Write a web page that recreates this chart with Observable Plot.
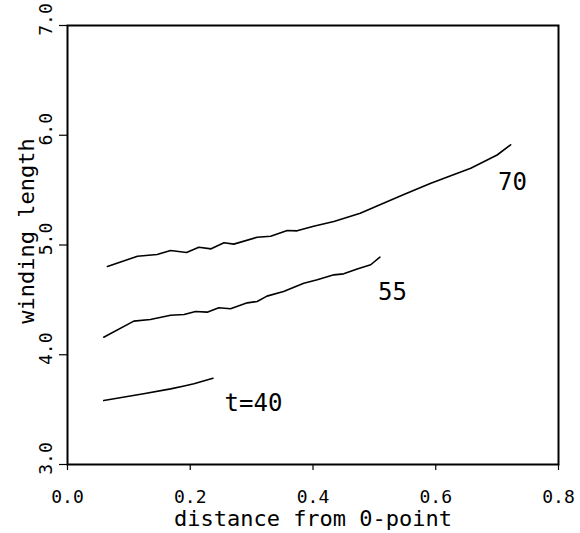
<!DOCTYPE html>
<html>
<head>
<meta charset="utf-8">
<script src="https://cdn.jsdelivr.net/npm/d3@7"></script>
<script src="https://cdn.jsdelivr.net/npm/@observablehq/plot@0.6"></script>
<style>
  html, body { margin: 0; padding: 0; background: #fff; }
  svg { font-family: "DejaVu Sans Mono", monospace; }
  g[aria-label="axis-title"] text { letter-spacing: 1.3px; }
</style>
</head>
<body>
<div id="chart"></div>
<script>
// t = 70
const x70 = [0.065, 0.114, 0.146, 0.168, 0.194, 0.214, 0.234, 0.255, 0.271, 0.309, 0.331, 0.358, 0.374, 0.401, 0.434, 0.477, 0.510, 0.548, 0.591, 0.619, 0.657, 0.700, 0.722];
const y70 = [4.804, 4.898, 4.913, 4.950, 4.932, 4.980, 4.965, 5.020, 5.008, 5.071, 5.080, 5.132, 5.129, 5.171, 5.214, 5.290, 5.370, 5.460, 5.560, 5.620, 5.700, 5.820, 5.913];
// t = 55
const x55 = [0.059, 0.108, 0.135, 0.168, 0.190, 0.2085, 0.2276, 0.2465, 0.2656, 0.293, 0.309, 0.325, 0.352, 0.385, 0.407, 0.434, 0.450, 0.472, 0.494, 0.509];
const y55 = [4.160, 4.306, 4.321, 4.360, 4.367, 4.394, 4.388, 4.428, 4.419, 4.473, 4.485, 4.534, 4.577, 4.652, 4.683, 4.728, 4.737, 4.782, 4.820, 4.889];
// t = 40
const x40 = [0.059, 0.124, 0.168, 0.190, 0.206, 0.237];
const y40 = [3.583, 3.644, 3.689, 3.715, 3.735, 3.786];

const curveLabels = ["70", "55", "t=40"];
const labelX = [0.725, 0.5295, 0.303];
const labelY = [5.57, 4.567, 3.556];

const xTicks = [0, 0.2, 0.4, 0.6, 0.8];
const yTicks = [3, 4, 5, 6, 7];
const xTitle = "distance from 0-point";
const yTitle = "winding length";

const toRows = (xs, ys) => xs.map((x, i) => ({x, y: ys[i]}));
const series = [toRows(x70, y70), toRows(x55, y55), toRows(x40, y40)];
const labels = curveLabels.map((t, i) => ({t, x: labelX[i], y: labelY[i]}));

const chart = Plot.plot({
  width: 580,
  height: 533,
  marginLeft: 67,
  marginRight: 22,
  marginTop: 25,
  marginBottom: 69,
  style: {fontFamily: "DejaVu Sans Mono", color: "#000", background: "#fff"},
  x: {domain: [0, 0.8]},
  y: {domain: [3, 7]},
  marks: [
    Plot.frame({stroke: "#000", strokeWidth: 2}),
    Plot.axisX(xTicks, {tickSize: 6, tickPadding: 20, fontSize: 18, tickFormat: d3.format(".1f"), label: null, strokeWidth: 1.2}),
    Plot.axisY(yTicks, {tickSize: 8, tickFormat: () => "", label: null, strokeWidth: 1.2}),
    Plot.text(yTicks, {y: d => d, text: d => d.toFixed(1), frameAnchor: "left", dx: -21, dy: -6, rotate: -90, fontSize: 18, lineAnchor: "middle", textAnchor: "middle"}),
    ...series.map(s => Plot.line(s, {x: "x", y: "y", stroke: "#000", strokeWidth: 1.6})),
    Plot.text(labels, {x: "x", y: "y", text: "t", fontSize: 24, lineAnchor: "middle", textAnchor: "middle"}),
    Plot.text([xTitle], {text: d => d, frameAnchor: "bottom", dy: 54, lineAnchor: "middle", textAnchor: "middle", fontSize: 22, ariaLabel: "axis-title"}),
    Plot.text([yTitle], {text: d => d, frameAnchor: "left", dx: -41, dy: -14, rotate: -90, lineAnchor: "middle", textAnchor: "middle", fontSize: 22, ariaLabel: "axis-title"})
  ]
});
document.getElementById("chart").appendChild(chart);
</script>
</body>
</html>
